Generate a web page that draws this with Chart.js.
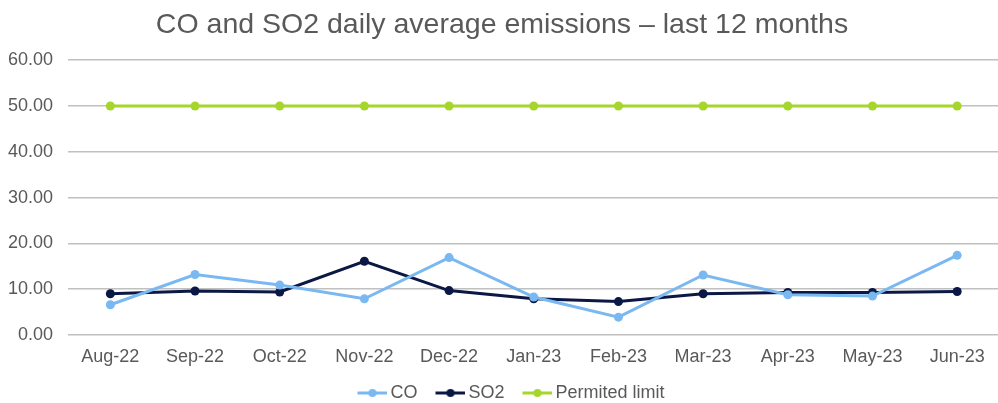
<!DOCTYPE html>
<html>
<head>
<meta charset="utf-8">
<script src="https://cdn.jsdelivr.net/npm/chart.js@4.4.1/dist/chart.umd.min.js"></script>
<style>
  html, body { margin: 0; padding: 0; background: #fff; overflow: hidden; }
  #wrap { position: relative; width: 1004px; height: 403px; }
</style>
</head>
<body>
<div id="wrap"><canvas id="emChart"></canvas></div>
<script>
// months along the x axis
const months = ["Aug-22", "Sep-22", "Oct-22", "Nov-22", "Dec-22", "Jan-23",
                "Feb-23", "Mar-23", "Apr-23", "May-23", "Jun-23"];

// daily average emissions
const coValues  = [6.6, 13.2, 10.9, 7.9, 16.9, 8.3, 3.9, 13.1, 8.8, 8.5, 17.4];
const so2Values = [9.0, 9.6, 9.4, 16.1, 9.7, 7.9, 7.3, 9.0, 9.3, 9.3, 9.5];
const limitValues = [50, 50, 50, 50, 50, 50, 50, 50, 50, 50, 50];

const yTicks = [0, 10, 20, 30, 40, 50, 60];

const CO_COL = "#7ab8f2";
const SO2_COL = "#0b1846";
const LIM_COL = "#a6d62b";
const TXT = "#595959";
const FONT = "Liberation Sans";

// line + dot swatch for the legend (transparent margin on the left)
function swatch(color) {
    const c = document.createElement("canvas");
    c.width = 54;
    c.height = 10;
    const g = c.getContext("2d");
    g.strokeStyle = color;
    g.lineWidth = 3;
    g.beginPath();
    g.moveTo(24, 5);
    g.lineTo(54, 5);
    g.stroke();
    g.fillStyle = color;
    g.beginPath();
    g.arc(39, 5, 4, 0, Math.PI * 2);
    g.fill();
    return c;
}

function line(label, data, color) {
    return {
        label,
        data,
        borderColor: color,
        backgroundColor: color,
        borderWidth: 3,
        pointRadius: 4.5,
        pointBorderWidth: 0,
        pointBackgroundColor: color,
        tension: 0
    };
}

const emChart = new Chart(document.getElementById("emChart"), {
    type: "line",
    data: {
        labels: months,
        datasets: [
            line("CO", coValues, CO_COL),
            line("SO2", so2Values, SO2_COL),
            line("Permited limit", limitValues, LIM_COL)
        ]
    },
    options: {
        responsive: true,
        maintainAspectRatio: false,
        animation: false,
        layout: { padding: { top: 8, left: 0, right: 0, bottom: -9 } },
        plugins: {
            title: {
                display: true,
                text: "CO and SO2 daily average emissions \u2013 last 12 months",
                color: TXT,
                font: { family: FONT, size: 28.5, weight: "normal" },
                padding: { top: 0, bottom: 18 }
            },
            legend: {
                position: "bottom",
                labels: {
                    color: TXT,
                    font: { family: FONT, size: 18 },
                    usePointStyle: true,
                    pointStyleWidth: 42,
                    padding: 0,
                    generateLabels(chart) {
                        return chart.data.datasets.map((ds, i) => ({
                            text: ds.label,
                            fontColor: TXT,
                            pointStyle: swatch(ds.borderColor),
                            datasetIndex: i,
                            lineWidth: 0,
                            strokeStyle: "transparent",
                            fillStyle: ds.borderColor
                        }));
                    }
                }
            },
            tooltip: { enabled: false }
        },
        scales: {
            x: {
                offset: true,
                grid: { display: false, drawTicks: false },
                border: { display: false },
                afterFit(scale) {
                    scale.height = 49;
                },
                ticks: {
                    color: TXT,
                    font: { family: FONT, size: 18 },
                    padding: 11,
                    maxRotation: 0
                }
            },
            y: {
                min: 0,
                max: 60,
                afterBuildTicks(scale) {
                    scale.ticks = yTicks.map(v => ({ value: v }));
                },
                afterFit(scale) {
                    scale.width = 68;
                },
                grid: { color: "#c0c0c0", lineWidth: 1.5, drawTicks: false },
                border: { display: false },
                ticks: {
                    color: TXT,
                    font: { family: FONT, size: 18 },
                    padding: 15,
                    callback: v => Number(v).toFixed(2)
                }
            }
        }
    }
});
</script>
</body>
</html>
